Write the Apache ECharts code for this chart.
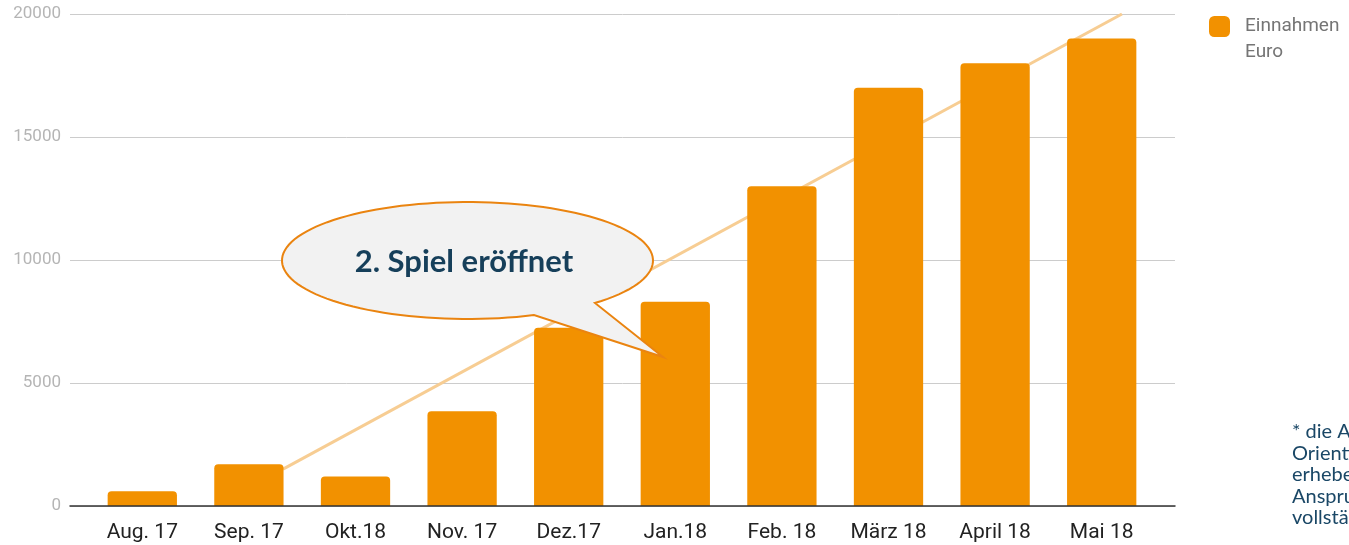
<!DOCTYPE html>
<html>
<head>
<meta charset="utf-8">
<script src="https://cdn.jsdelivr.net/npm/echarts@6/dist/echarts.min.js"></script>
<style>
  html, body { margin: 0; padding: 0; background: #ffffff; overflow: hidden; }
  #chart { width: 1349px; height: 545px; }
</style>
</head>
<body>
<div id="chart"></div>
<script>
// Monthly income, in euro
const months = ['Aug. 17', 'Sep. 17', 'Okt.18', 'Nov. 17', 'Dez.17', 'Jan.18', 'Feb. 18', 'März 18', 'April 18', 'Mai 18'];
const einnahmen = [600, 1700, 1200, 3850, 7250, 8300, 13000, 17000, 18000, 19000];
const yTicks = [0, 5000, 10000, 15000, 20000];
// Growth trend line: [month position, euro]
const trendStart = [1.32, 1500];
const trendEnd = [9.19, 20000];

const seriesName = 'Einnahmen';
const ORANGE = '#f29100';

// Speech bubble outline: ellipse plus a pointed tail
function bubblePoints(cx, cy, rx, ry, fromDeg, toDeg, tip) {
  const pts = [];
  const n = 120;
  for (let i = 0; i <= n; i++) {
    const a = (fromDeg + (toDeg - fromDeg) * i / n) * Math.PI / 180;
    pts.push([cx + rx * Math.cos(a), cy + ry * Math.sin(a)]);
  }
  pts.push(tip);
  return pts;
}

const chart = echarts.init(document.getElementById('chart'), null, { renderer: 'canvas' });

chart.setOption({
  backgroundColor: '#ffffff',
  animation: false,
  legend: {
    left: 1204,
    top: 11,
    orient: 'vertical',
    itemWidth: 21,
    itemHeight: 21,
    icon: 'roundRect',
    selectedMode: false,
    data: [seriesName],
    textStyle: {
      fontFamily: 'Roboto',
      fontSize: 19,
      color: '#757575',
      padding: [2, 0, 0, 10]
    }
  },
  grid: [
    { left: 89, right: 194, top: 14, bottom: 39 },
    { left: 70, right: 174, top: 14, bottom: 39 }
  ],
  xAxis: [
    {
      type: 'category',
      gridIndex: 0,
      data: months,
      axisLine: { show: false },
      axisTick: { show: false },
      axisLabel: { fontFamily: 'Roboto', fontSize: 21, color: '#222222', margin: 16 }
    },
    {
      type: 'value',
      gridIndex: 0,
      min: -0.5,
      max: 9.5,
      show: false
    },
    {
      type: 'category',
      gridIndex: 1,
      data: [''],
      z: 5,
      axisLine: { show: true, lineStyle: { color: '#333333', width: 1.5 } },
      axisTick: { show: false },
      axisLabel: { show: false }
    }
  ],
  yAxis: [
    { type: 'value', gridIndex: 0, min: 0, max: 20000, show: false },
    {
      type: 'value',
      gridIndex: 1,
      min: yTicks[0],
      max: yTicks[yTicks.length - 1],
      interval: yTicks[1] - yTicks[0],
      axisLine: { show: false },
      axisTick: { show: false },
      axisLabel: {
        fontFamily: 'Roboto',
        fontSize: 17,
        color: '#b5b5b5',
        margin: 9,
        formatter: v => String(v)
      },
      splitLine: { lineStyle: { color: '#cccccc', width: 1 } }
    }
  ],
  series: [
    {
      type: 'line',
      xAxisIndex: 1,
      yAxisIndex: 0,
      data: [trendStart, trendEnd],
      symbol: 'none',
      silent: true,
      z: 1,
      lineStyle: { color: '#f7cd93', width: 3 }
    },
    {
      name: seriesName,
      type: 'bar',
      xAxisIndex: 0,
      yAxisIndex: 0,
      data: einnahmen,
      barWidth: '65%',
      z: 3,
      itemStyle: { color: ORANGE, borderRadius: [4, 4, 0, 0] }
    }
  ],
  graphic: [
    {
      // second line of the legend label
      type: 'text',
      x: 1245,
      y: 52,
      style: {
        text: 'Euro',
        fontFamily: 'Roboto',
        fontSize: 19,
        fill: '#757575',
        align: 'left',
        verticalAlign: 'middle'
      }
    },
    {
      type: 'polygon',
      z: 100,
      shape: { points: bubblePoints(467.5, 260.5, 185.5, 58.5, 69, 406.6, [663, 357]) },
      style: { fill: '#f2f2f2', stroke: '#ea8410', lineWidth: 2 }
    },
    {
      type: 'text',
      z: 101,
      x: 464,
      y: 262,
      style: {
        text: '2. Spiel eröffnet',
        fontFamily: 'Lato',
        fontWeight: 'bold',
        fontSize: 31,
        fill: '#163f5a',
        align: 'center',
        verticalAlign: 'middle'
      }
    },
    {
      type: 'text',
      z: 101,
      x: 1292,
      y: 421,
      style: {
        text: '* die Angaben dienen der\nOrientierung und\nerheben keinen\nAnspruch auf\nvollständige Richtigkeit',
        fontFamily: 'Lato',
        fontSize: 20,
        lineHeight: 21.5,
        fill: '#1a4766',
        align: 'left',
        verticalAlign: 'top'
      }
    }
  ]
});
</script>
</body>
</html>
